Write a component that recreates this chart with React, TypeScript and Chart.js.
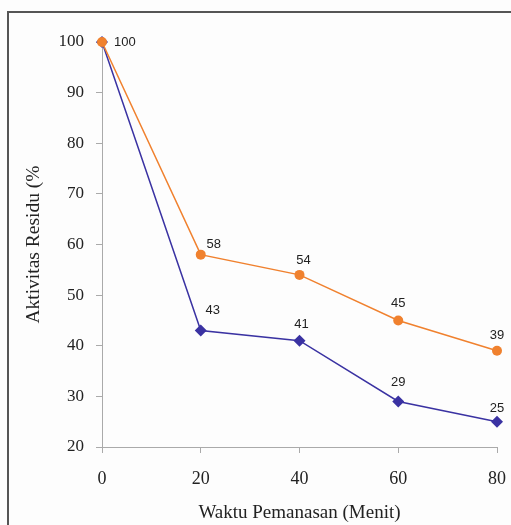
import React, { useEffect, useRef } from 'react';
import { Chart, registerables } from 'chart.js';

Chart.register(...registerables);

const xValues = [0, 20, 40, 60, 80];
const seriesOrange = [100, 58, 54, 45, 39];
const seriesPurple = [100, 43, 41, 29, 25];
const xTickStep = 20;
const yTickStep = 10;
const xMin = 0;
const xMax = 80;
const yMin = 20;
const yMax = 100;
const xTitle = 'Waktu Pemanasan (Menit)';
const yTitle = 'Aktivitas Residu (%';

const ORANGE = '#F0812E';
const PURPLE = '#3A32A2';
const SERIF = '"Liberation Serif", "Times New Roman", serif';
const SANS = '"Liberation Sans", Arial, sans-serif';

// label placement style per dataset (dx, dy in px relative to point)
const orangeLabelStyle = [null, [13, -10], [4, -14], [0, -17], [0, -15]];
const purpleLabelStyle = [[20, 0], [12, -20], [2, -16], [0, -19], [0, -13]];

const labelPlugin = {
  id: 'pointLabels',
  afterDatasetsDraw(chart: any) {
    const ctx = chart.ctx;
    ctx.save();
    ctx.font = `13px ${SANS}`;
    ctx.fillStyle = '#222';
    ctx.textBaseline = 'middle';
    chart.data.datasets.forEach((ds: any, di: number) => {
      const meta = chart.getDatasetMeta(di);
      const style = di === 0 ? orangeLabelStyle : purpleLabelStyle;
      meta.data.forEach((pt: any, i: number) => {
        const s = style[i];
        if (!s) return;
        const v = ds.data[i].y;
        ctx.textAlign = s[0] >= 18 ? 'left' : 'center';
        const dx = s[0] >= 18 ? s[0] - 8 : s[0];
        ctx.fillText(String(v), pt.x + dx, pt.y + s[1]);
      });
    });
    ctx.restore();
  },
};

export default function App() {
  const ref = useRef<HTMLCanvasElement | null>(null);

  useEffect(() => {
    document.body.style.margin = '0';
    const canvas = ref.current;
    if (!canvas) return;
    const chart = new Chart(canvas, {
      type: 'line',
      data: {
        datasets: [
          {
            label: 'A',
            data: xValues.map((x, i) => ({ x, y: seriesOrange[i] })),
            borderColor: ORANGE,
            backgroundColor: ORANGE,
            borderWidth: 1.5,
            pointStyle: 'circle',
            pointRadius: 5,
            pointBorderWidth: 0,
            clip: false as any,
          },
          {
            label: 'B',
            data: xValues.map((x, i) => ({ x, y: seriesPurple[i] })),
            borderColor: PURPLE,
            backgroundColor: PURPLE,
            borderWidth: 1.5,
            pointStyle: 'rectRot',
            pointRadius: 6,
            pointBorderWidth: 0,
            clip: false as any,
          },
        ],
      },
      options: {
        animation: false,
        responsive: false,
        maintainAspectRatio: false,
        layout: { padding: { left: 0, right: 14, top: 42, bottom: 0 } },
        plugins: {
          legend: { display: false },
          tooltip: { enabled: false },
        },
        scales: {
          x: {
            type: 'linear',
            min: xMin,
            max: xMax,
            ticks: {
              stepSize: xTickStep,
              color: '#222',
              font: { family: SERIF, size: 18 },
              padding: 15,
              maxRotation: 0,
            },
            grid: {
              drawOnChartArea: false,
              drawTicks: true,
              tickLength: 6,
              tickColor: '#aaa',
            },
            border: { display: true, color: '#aaa', width: 1 },
            title: {
              display: true,
              text: xTitle,
              color: '#222',
              font: { family: SERIF, size: 19 },
              padding: { top: 0, bottom: 1 },
            },
            afterFit: (scale: any) => {
              scale.height = 78;
              scale.paddingRight = 0;
            },
          },
          y: {
            type: 'linear',
            min: yMin,
            max: yMax,
            ticks: {
              stepSize: yTickStep,
              color: '#222',
              font: { family: SERIF, size: 17 },
              padding: 12,
            },
            grid: {
              drawOnChartArea: false,
              drawTicks: true,
              tickLength: 6,
              tickColor: '#aaa',
            },
            border: { display: true, color: '#aaa', width: 1 },
            title: {
              display: true,
              text: yTitle,
              color: '#222',
              font: { family: SERIF, size: 19.5 },
              padding: { top: 22, bottom: 0 },
            },
            afterFit: (scale: any) => {
              scale.width = 102;
            },
          },
        },
      },
      plugins: [labelPlugin],
    });
    return () => chart.destroy();
  }, []);

  return (
    <div
      style={{
        position: 'fixed',
        left: 0,
        top: 0,
        width: 511,
        height: 525,
        overflow: 'hidden',
        background: '#fdfdfd',
      }}
    >
      <canvas ref={ref} width={511} height={525} style={{ display: 'block' }} />
      <div
        style={{
          position: 'absolute',
          left: 7,
          top: 11,
          width: 600,
          height: 600,
          borderLeft: '2px solid #555',
          borderTop: '2px solid #555',
          pointerEvents: 'none',
        }}
      />
    </div>
  );
}
